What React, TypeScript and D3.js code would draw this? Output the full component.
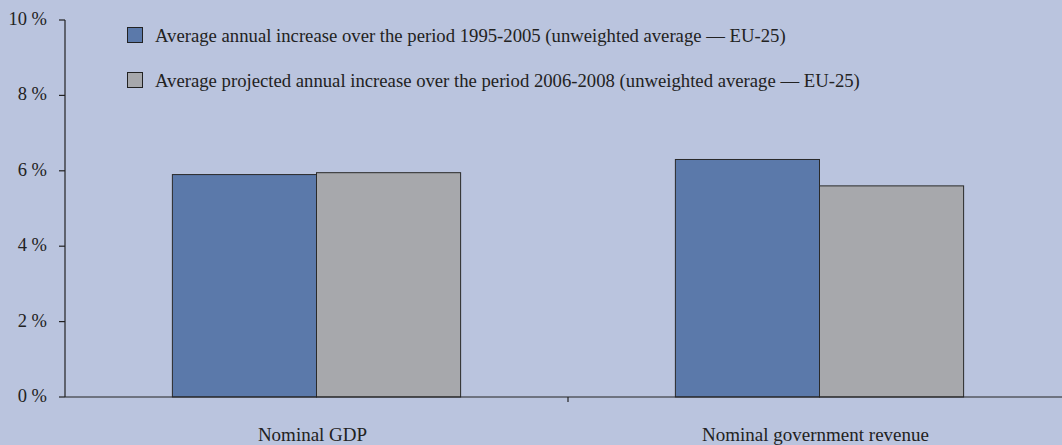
import React from "react";
import * as d3 from "d3";

const categories = ["Nominal GDP", "Nominal government revenue"];
const series1995 = [5.9, 6.3];
const series2006 = [5.95, 5.6];
const seriesNames = [
  "Average annual increase over the period 1995-2005 (unweighted average \u2014 EU-25)",
  "Average projected annual increase over the period 2006-2008 (unweighted average \u2014 EU-25)",
];
const yTicks = [0, 2, 4, 6, 8, 10];

export default function App() {
  const W = 1062, H = 445;
  const x0 = 65, x1 = 1071, yTop = 20, yBot = 397;
  const x = d3.scaleBand<string>().domain(categories).range([x0, x1]).paddingInner(0).paddingOuter(0);
  const y = d3.scaleLinear().domain([0, 10]).range([yBot, yTop]);
  const bw = x.bandwidth();
  const barW = bw * 0.2865;
  const colors = ["#5B79AA", "#A7A8AC"];
  const font = "'Liberation Serif', 'Times New Roman', serif";
  const allSeries = [series1995, series2006];
  const fs = 18.5;
  return (
    <div style={{ position: "fixed", left: 0, top: 0 }}>
      <svg width={W} height={H} style={{ display: "block" }} fontFamily={font}>
        <rect x={0} y={0} width={W} height={H} fill="#BAC4DE" />
        {categories.map((c, i) => {
          const cx = (x(c) as number) + bw / 2;
          return allSeries.map((s, k) => (
            <rect
              key={c + k}
              x={cx - barW + k * barW}
              y={y(s[i])}
              width={barW}
              height={yBot - y(s[i])}
              fill={colors[k]}
              stroke="#2a2a2a"
              strokeWidth={1}
            />
          ));
        })}
        <line x1={x0} x2={x0} y1={yTop} y2={yBot} stroke="#222" strokeWidth={1.2} />
        <line x1={x0} x2={W} y1={yBot} y2={yBot} stroke="#222" strokeWidth={1.2} />
        {yTicks.map((t) => (
          <g key={t}>
            <line x1={x0 - 6} x2={x0} y1={y(t)} y2={y(t)} stroke="#222" strokeWidth={1.2} />
            <text x={47} y={y(t) + 5} textAnchor="end" fontSize={fs} fill="#222">
              {t} %
            </text>
          </g>
        ))}
        <line x1={x0 + bw} x2={x0 + bw} y1={yBot} y2={yBot + 5} stroke="#222" strokeWidth={1.2} />
        {categories.map((c) => (
          <text key={c} x={(x(c) as number) + bw / 2 - 4} y={441} textAnchor="middle" fontSize={19} fill="#222">
            {c}
          </text>
        ))}
        {seriesNames.map((n, k) => (
          <g key={n}>
            <rect x={127.5} y={27.5 + k * 45} width={15} height={15} fill={colors[k]} stroke="#222" strokeWidth={1} />
            <text x={155} y={41.5 + k * 45} fontSize={18.7} fill="#222">
              {n}
            </text>
          </g>
        ))}
      </svg>
    </div>
  );
}
